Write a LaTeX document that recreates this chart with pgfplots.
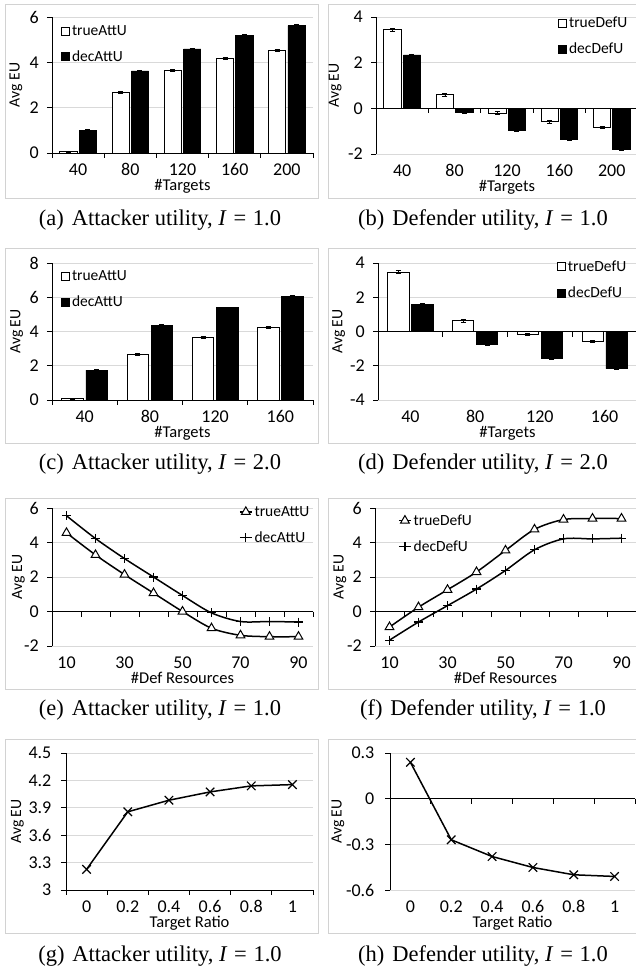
\documentclass[border=0pt]{standalone}
\usepackage{fontspec}
\setmainfont{Carlito}
\newfontfamily\capfont{Liberation Serif}
\usepackage{pgfplots}
\pgfplotsset{compat=1.18}
\definecolor{gridgray}{RGB}{217,217,217}
\definecolor{framegray}{RGB}{210,210,210}

\pgfplotsset{
  base/.style={
    scale only axis, anchor=north west,
    axis x line*=bottom, axis y line*=left,
    x axis line style={draw=none},
    y axis line style={black, line width=0.9bp},
    xtick style={draw=none},
    ytick style={black, line width=0.9bp},
    tick align=outside, major tick length=5bp,
    ymajorgrids, major grid style={gridgray, line width=0.9bp},
    xticklabel style={font=\fontsize{18bp}{20bp}\selectfont, anchor=base, inner sep=0pt, yshift=-17.5bp},
    yticklabel style={font=\fontsize{18bp}{20bp}\selectfont, anchor=east, inner sep=0pt, xshift=-8bp},
    xlabel style={font=\fontsize{16.5bp}{18bp}\selectfont, at={(axis description cs:0.5,0)}, anchor=base, inner sep=0pt, yshift=-37.5bp},
    ylabel style={font=\fontsize{15.7bp}{17bp}\selectfont, anchor=center, inner sep=0pt},
    legend style={draw=none, fill=none, inner sep=0pt, row sep=12bp, column sep=1bp,
      nodes={inner sep=1bp}, font=\fontsize{15.5bp}{17bp}\selectfont},
    legend cell align=left,
    clip=false,
  },
  barleg/.style={legend image code/.code={\draw[##1, line width=0.8bp] (0bp,-4bp) rectangle (8bp,4bp);}},
  lineleg/.style={legend image code/.code={\draw[##1, mark repeat=2, mark phase=2] plot coordinates {(0bp,0bp) (6bp,0bp) (12bp,0bp)};}},
  errs/.style={error bars/y dir=both, error bars/y explicit,
    error bars/error mark options={rotate=90, mark size=2.5bp, line width=0.8bp, black},
    error bars/error bar style={line width=0.8bp, black}},
  bart/.style={ybar, bar width=0.33, bar shift=0, fill=white, draw=black, line width=0.8bp},
  barf/.style={ybar, bar width=0.33, bar shift=0, fill=black, draw=black, line width=0.8bp},
  lin/.style={black, line width=1.5bp},
  tri/.style={lin, mark=triangle*, mark size=5bp, mark options={fill=white, solid, line width=1bp}},
  pls/.style={lin, mark=+, mark size=4.5bp, mark options={solid, line width=1.2bp}},
  crs/.style={lin, mark=x, mark size=6bp, mark options={solid, line width=1.2bp}},
}
\newcommand{\catline}[4]{%
  \draw[black, line width=0.9bp] (axis cs:#1,#3) -- (axis cs:#2,#3);
  \pgfplotsinvokeforeach{#4}{\draw[black, line width=0.9bp] (axis cs:##1,#3) -- ++(0bp,-5bp);}
}
\newcommand{\subcap}[3]{\node[anchor=base, font=\capfont\fontsize{22.5bp}{25bp}\selectfont] at (#1bp,-#2bp) {#3};}

\begin{document}
\begin{tikzpicture}
\path[use as bounding box] (0,0) rectangle (636bp,-971bp);
% panel frames
\draw[framegray, line width=1bp] (5bp,-4bp) rectangle (318.5bp,-198bp);
\draw[framegray, line width=1bp] (328bp,-4bp) rectangle (640bp,-198bp);
\draw[framegray, line width=1bp] (5bp,-248bp) rectangle (318.5bp,-443bp);
\draw[framegray, line width=1bp] (328bp,-248bp) rectangle (640bp,-443bp);
\draw[framegray, line width=1bp] (5bp,-498bp) rectangle (318.5bp,-689bp);
\draw[framegray, line width=1bp] (328bp,-498bp) rectangle (640bp,-689bp);
\draw[framegray, line width=1bp] (5bp,-739bp) rectangle (318.5bp,-933bp);
\draw[framegray, line width=1bp] (328bp,-739bp) rectangle (640bp,-933bp);

% (a)
\begin{axis}[base, barleg, errs, at={(52bp,-17bp)}, width=261bp, height=136bp,
  xmin=-0.5, xmax=4.5, ymin=0, ymax=6,
  xtick={0,1,2,3,4}, xticklabels={40,80,120,160,200},
  ytick={0,2,4,6}, yticklabels={0,2,4,6},
  xlabel={\#Targets}, ylabel={Avg EU},
  ylabel style={at={(axis description cs:-0.138,0.5)}},
  legend style={at={(0.0345,0.801)}, anchor=west}]
\addplot[bart] coordinates {(-0.185,0.06) +- (0,0.03) (0.815,2.68) +- (0,0.04) (1.815,3.65) +- (0,0.04) (2.815,4.19) +- (0,0.04) (3.815,4.53) +- (0,0.04)};
\addplot[barf] coordinates {(0.185,0.99) +- (0,0.03) (1.185,3.62) +- (0,0.04) (2.185,4.59) +- (0,0.04) (3.185,5.18) +- (0,0.04) (4.185,5.62) +- (0,0.04)};
\legend{trueAttU, decAttU}
\catline{-0.5}{4.5}{0}{-0.5,0.5,1.5,2.5,3.5,4.5}
\end{axis}

% (b)
\begin{axis}[base, barleg, errs, at={(376bp,-17bp)}, width=262bp, height=137bp,
  xmin=-0.5, xmax=4.5, ymin=-2, ymax=4,
  xtick={0,1,2,3,4}, xticklabels={40,80,120,160,200},
  ytick={-2,0,2,4}, yticklabels={-2,0,2,4},
  xlabel={\#Targets}, ylabel={Avg EU},
  ylabel style={at={(axis description cs:-0.156,0.5)}},
  legend style={at={(0.695,0.861)}, anchor=west}]
\addplot[bart] coordinates {(-0.185,3.44) +- (0,0.07) (0.815,0.59) +- (0,0.05) (1.815,-0.2) +- (0,0.06) (2.815,-0.59) +- (0,0.05) (3.815,-0.85) +- (0,0.05)};
\addplot[barf] coordinates {(0.185,2.34) +- (0,0.04) (1.185,-0.19) +- (0,0.04) (2.185,-0.97) +- (0,0.04) (3.185,-1.38) +- (0,0.04) (4.185,-1.79) +- (0,0.05)};
\legend{trueDefU, decDefU}
\catline{-0.5}{4.5}{0}{-0.5,0.5,1.5,2.5,3.5,4.5}
\end{axis}

% (c)
\begin{axis}[base, barleg, errs, at={(52bp,-263bp)}, width=261bp, height=137bp,
  xmin=-0.5, xmax=3.5, ymin=0, ymax=8,
  xtick={0,1,2,3}, xticklabels={40,80,120,160},
  ytick={0,2,4,6,8}, yticklabels={0,2,4,6,8},
  xlabel={\#Targets}, ylabel={Avg EU},
  ylabel style={at={(axis description cs:-0.135,0.5)}},
  legend style={at={(0.0345,0.807)}, anchor=west}]
\addplot[bart] coordinates {(-0.185,0.08) +- (0,0.03) (0.815,2.68) +- (0,0.05) (1.815,3.64) +- (0,0.05) (2.815,4.22) +- (0,0.05)};
\addplot[barf] coordinates {(0.185,1.75) +- (0,0.04) (1.185,4.37) +- (0,0.05) (2.185,5.38) +- (0,0.05) (3.185,6.06) +- (0,0.05)};
\legend{trueAttU, decAttU}
\catline{-0.5}{3.5}{0}{-0.5,0.5,1.5,2.5,3.5}
\end{axis}

% (d)
\begin{axis}[base, barleg, errs, at={(378bp,-263bp)}, width=259bp, height=137bp,
  xmin=-0.5, xmax=3.5, ymin=-4, ymax=4,
  xtick={0,1,2,3}, xticklabels={40,80,120,160},
  ytick={-4,-2,0,2,4}, yticklabels={-4,-2,0,2,4},
  xlabel={\#Targets}, ylabel={Avg EU},
  ylabel style={at={(axis description cs:-0.152,0.5)}},
  legend style={at={(0.691,0.876)}, anchor=west}]
\addplot[bart] coordinates {(-0.185,3.48) +- (0,0.08) (0.815,0.62) +- (0,0.07) (1.815,-0.17) +- (0,0.06) (2.815,-0.56) +- (0,0.06)};
\addplot[barf] coordinates {(0.185,1.59) +- (0,0.05) (1.185,-0.76) +- (0,0.05) (2.185,-1.57) +- (0,0.05) (3.185,-2.17) +- (0,0.05)};
\legend{trueDefU, decDefU}
\catline{-0.5}{3.5}{0}{-0.5,0.5,1.5,2.5,3.5}
\end{axis}

% (e)
\begin{axis}[base, lineleg, at={(52bp,-508bp)}, width=261bp, height=138bp,
  xmin=-0.5, xmax=8.5, ymin=-2, ymax=6,
  xtick={0,2,4,6,8}, xticklabels={10,30,50,70,90},
  ytick={-2,0,2,4,6}, yticklabels={-2,0,2,4,6},
  xlabel={\#Def Resources}, ylabel={Avg EU},
  ylabel style={at={(axis description cs:-0.129,0.5)}},
  legend style={at={(0.716,0.877)}, anchor=west}]
\addplot[tri, smooth] coordinates {(0,4.56) (1,3.28) (2,2.14) (3,1.07) (4,0.0) (5,-0.97) (6,-1.38) (7,-1.46) (8,-1.46)};
\addplot[pls, smooth] coordinates {(0,5.55) (1,4.23) (2,3.07) (3,2.0) (4,0.93) (5,-0.08) (6,-0.58) (7,-0.58) (8,-0.61)};
\legend{trueAttU, decAttU}
\catline{-0.5}{8.5}{0}{-0.5,0.5,1.5,2.5,3.5,4.5,5.5,6.5,7.5,8.5}
\end{axis}

% (f)
\begin{axis}[base, lineleg, at={(375bp,-508bp)}, width=261bp, height=138bp,
  xmin=-0.5, xmax=8.5, ymin=-2, ymax=6,
  xtick={0,2,4,6,8}, xticklabels={10,30,50,70,90},
  ytick={-2,0,2,4,6}, yticklabels={-2,0,2,4,6},
  xlabel={\#Def Resources}, ylabel={Avg EU},
  ylabel style={at={(axis description cs:-0.134,0.5)}},
  legend style={at={(0.088,0.814)}, anchor=west}]
\addplot[tri, smooth] coordinates {(0,-0.9) (1,0.25) (2,1.26) (3,2.29) (4,3.54) (5,4.76) (6,5.33) (7,5.39) (8,5.39)};
\addplot[pls, smooth] coordinates {(0,-1.66) (1,-0.61) (2,0.34) (3,1.3) (4,2.38) (5,3.58) (6,4.21) (7,4.21) (8,4.25)};
\legend{trueDefU, decDefU}
\catline{-0.5}{8.5}{0}{-0.5,0.5,1.5,2.5,3.5,4.5,5.5,6.5,7.5,8.5}
\end{axis}

% (g)
\begin{axis}[base, at={(66bp,-753bp)}, width=247bp, height=137bp,
  xmin=-0.5, xmax=5.5, ymin=3, ymax=4.5,
  xtick={0,1,2,3,4,5}, xticklabels={0,0.2,0.4,0.6,0.8,1},
  ytick={3,3.3,3.6,3.9,4.2,4.5}, yticklabels={3,3.3,3.6,3.9,4.2,4.5},
  yticklabel style={xshift=-1.5bp},
  xlabel={Target Ratio}, ylabel={Avg EU},
  ylabel style={at={(axis description cs:-0.197,0.5)}}]
\addplot[crs] coordinates {(0,3.226) (1,3.856) (2,3.983) (3,4.074) (4,4.14) (5,4.154)};
\catline{-0.5}{5.5}{3}{-0.5,0.5,1.5,2.5,3.5,4.5,5.5}
\end{axis}

% (h)
\begin{axis}[base, at={(390bp,-753bp)}, width=245bp, height=137bp,
  xmin=-0.5, xmax=5.5, ymin=-0.6, ymax=0.3,
  xtick={0,1,2,3,4,5}, xticklabels={0,0.2,0.4,0.6,0.8,1},
  ytick={-0.6,-0.3,0,0.3}, yticklabels={-0.6,-0.3,0,0.3},
  yticklabel style={xshift=-2.5bp},
  xlabel={Target Ratio}, ylabel={Avg EU},
  ylabel style={at={(axis description cs:-0.213,0.5)}}]
\addplot[crs] coordinates {(0,0.239) (1,-0.27) (2,-0.38) (3,-0.452) (4,-0.5) (5,-0.511)};
\catline{-0.5}{5.5}{0}{-0.5,0.5,1.5,2.5,3.5,4.5,5.5}
\end{axis}

% captions
\subcap{160}{225}{(a)\hspace{0.35em}Attacker utility, \textit{I}\hspace{0.3em}=\hspace{0.3em}1.0}
\subcap{483}{225}{(b)\hspace{0.35em}Defender utility, \textit{I}\hspace{0.3em}=\hspace{0.3em}1.0}
\subcap{160}{469}{(c)\hspace{0.35em}Attacker utility, \textit{I}\hspace{0.3em}=\hspace{0.3em}2.0}
\subcap{483}{469}{(d)\hspace{0.35em}Defender utility, \textit{I}\hspace{0.3em}=\hspace{0.3em}2.0}
\subcap{160}{715}{(e)\hspace{0.35em}Attacker utility, \textit{I}\hspace{0.3em}=\hspace{0.3em}1.0}
\subcap{483}{715}{(f)\hspace{0.35em}Defender utility, \textit{I}\hspace{0.3em}=\hspace{0.3em}1.0}
\subcap{160}{961}{(g)\hspace{0.35em}Attacker utility, \textit{I}\hspace{0.3em}=\hspace{0.3em}1.0}
\subcap{483}{961}{(h)\hspace{0.35em}Defender utility, \textit{I}\hspace{0.3em}=\hspace{0.3em}1.0}
\end{tikzpicture}
\end{document}
